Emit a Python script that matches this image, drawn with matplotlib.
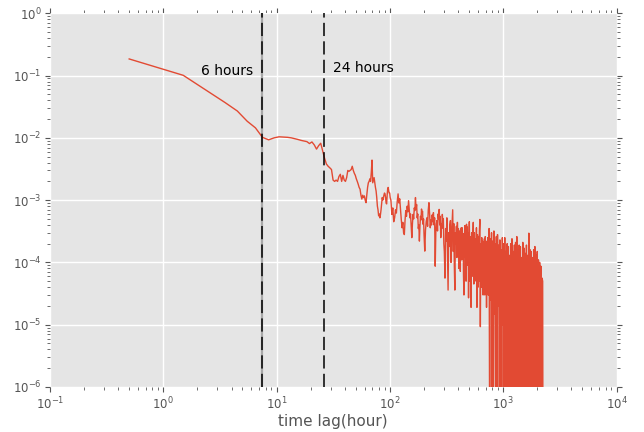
import matplotlib
matplotlib.use("Agg")
import matplotlib.pyplot as plt

# ---- data: autocorrelation vs time lag (hours) ----
lag_a = [0.5, 1.5, 2.5, 3.5, 4.5, 5.5, 6.5, 7.5, 8.5, 9.5,
         10.5, 11.5, 12.5, 13.5, 14.5, 15.5, 16.5, 17.5, 18.5, 19.5,
         20.5, 21.5, 22.5, 23.5, 24.5, 25.5, 26.5, 27.5, 28.5, 29.5,
         30.5, 31.5, 32.5, 33.5, 34.5, 35.5, 36.5, 37.5, 38.5, 39.5,
         40.5, 41.5, 42.5, 43.5, 44.5, 45.5, 46.5, 47.5, 48.5, 49.5,
         50.5, 51.5, 52.5, 53.5, 54.5, 55.5, 56.5, 57.5, 58.5, 59.5,
         60.5, 61.5, 62.5, 63.5, 64.5, 65.5, 66.5, 67.5, 68.5, 69.5,
         70.5, 71.5, 72.5, 73.5, 74.5, 75.5, 76.5, 77.5, 78.5, 79.5,
         80.5, 81.5, 82.5, 83.5, 84.5, 85.5, 86.5, 87.5, 88.5, 89.5,
         90.5, 91.5, 92.5, 93.5, 94.5, 95.5, 96.5, 97.5, 98.5, 99.5,
         100.5]
acf_a = [0.185, 0.101, 0.055, 0.037, 0.027, 0.0185, 0.0145, 0.0102, 0.0093, 0.0100,
         0.0104, 0.0103, 0.0102, 0.0100, 0.0097, 0.0094, 0.0091, 0.0089, 0.0087, 0.0081,
         0.0086, 0.0077, 0.0066, 0.0075, 0.0082, 0.0062, 0.0047, 0.0038, 0.0035, 0.0033,
         0.0031, 0.0021, 0.0020, 0.0021, 0.0020, 0.0024, 0.0026, 0.0020, 0.0025, 0.0021,
         0.0020, 0.0023, 0.0030, 0.0029, 0.0030, 0.0031, 0.0035, 0.0030, 0.0027, 0.0025,
         0.0022, 0.0020, 0.0018, 0.0016, 0.0015, 0.0012, 0.00104, 0.0012, 0.0011, 0.00117,
         0.0010, 0.00091, 0.0012, 0.0016, 0.0019, 0.0020, 0.0022, 0.0020, 0.0028, 0.0044,
         0.0019, 0.0021, 0.0023, 0.0019, 0.0016, 0.0014, 0.0011, 0.0008, 0.0007, 0.00056,
         0.0006, 0.00052, 0.00059, 0.0007, 0.0009, 0.0011, 0.0010, 0.0011, 0.0012, 0.0013,
         0.00126, 0.0011, 0.0009, 0.00087, 0.0012, 0.0015, 0.0016, 0.0014, 0.0013, 0.0013,
         0.0011]

lag_b1 = [102, 104, 106, 108, 110, 112, 114, 116, 118, 120,
          122, 124, 126, 128, 130, 132, 134, 136, 138, 140,
          142, 144, 146, 148, 150, 152, 154, 156, 158, 160,
          162, 164, 166, 168, 170, 172, 174, 176, 178, 180,
          182, 184, 186, 188, 190, 192, 194, 196, 198, 200,
          203, 206, 209, 212, 215, 218, 221, 224, 227, 230,
          233, 236, 239, 242, 245, 248, 251, 254, 257, 260,
          263, 266, 269, 272, 275, 278, 281, 284, 287, 290,
          293, 296, 299]
acf_b1 = [0.0010, 0.00059, 0.00075, 0.00045, 0.00052, 0.00070, 0.00062, 0.00095, 0.00126, 0.00090,
          0.00105, 0.00070, 0.00048, 0.00036, 0.00044, 0.00030, 0.00028, 0.00048, 0.00068, 0.00055,
          0.00080, 0.00065, 0.00098, 0.00070, 0.00052, 0.00060, 0.00038, 0.00025, 0.00042, 0.00059,
          0.00050, 0.00075, 0.00068, 0.0011, 0.00072, 0.00085, 0.00052, 0.00060, 0.00035, 0.00040,
          0.00022, 0.00038, 0.00055, 0.00048, 0.00072, 0.00060, 0.00066, 0.00041, 0.00050, 0.00028,
          0.000152, 0.00033, 0.00045, 0.00052, 0.00038, 0.00070, 0.00091, 0.00060, 0.00036, 0.00048,
          0.00040, 0.00058, 0.00045, 0.00063, 0.00040, 0.00052, 0.000087, 0.00030, 0.00042, 0.00047,
          0.00032, 0.00060, 0.00050, 0.00071, 0.00040, 0.00055, 0.00025, 0.00042, 0.00035, 0.00059,
          0.00045, 0.00050, 0.00020]

lag_b2 = [302, 306, 310, 314, 318, 322, 326, 330, 334, 338,
          342, 346, 350, 354, 358, 362, 366, 370, 374, 378,
          382, 386, 390, 394, 398, 402, 406, 410, 414, 418,
          422, 426, 430, 434, 438, 442, 446, 450, 454, 458,
          462, 466, 470, 474, 478, 482, 486, 490, 494, 498]
acf_b2 = [0.00015, 0.000056, 0.00035, 0.00022, 0.00052, 0.00012, 0.000036, 0.00030, 0.00018, 0.00040,
          0.00047, 0.00010, 0.00028, 0.00045, 0.00070, 0.00015, 0.00042, 0.00009, 0.000036, 0.00030,
          0.00020, 0.00038, 0.00012, 0.00044, 0.00018, 0.00035, 0.00008, 0.00032, 0.00015, 0.000072,
          0.00030, 0.00036, 0.00011, 0.00036, 0.00016, 0.00029, 0.00006, 0.00003, 0.00025, 0.00039,
          0.00012, 0.00033, 0.00005, 0.00041, 0.00014, 0.00037, 0.00009, 0.00030, 0.000027, 0.00022]

lag_c1 = [502, 508, 514, 520, 526, 532, 538, 544, 550, 556,
          562, 568, 574, 580, 586, 592, 598, 604, 610, 616,
          622, 628, 634, 640, 646, 652, 658, 664, 670, 676,
          682, 688, 694, 700, 706, 712, 718, 724, 730, 736,
          742, 748]
acf_c1 = [4.5e-4, 5e-5, 2.6e-4, 1.9e-5, 3.0e-4, 6e-5, 2.2e-4, 4.4e-4, 4.5e-5, 3.0e-4,
          5e-5, 2.4e-4, 7e-5, 3.6e-4, 1.9e-5, 2.8e-4, 4e-5, 2.6e-4, 5e-5, 3.2e-4,
          4.9e-4, 9.3e-6, 2.0e-4, 4e-5, 2.5e-4, 5e-5, 2.2e-4, 3e-5, 2.0e-4, 4.5e-5,
          2.4e-4, 3e-5, 2.6e-4, 5e-5, 1.9e-4, 1.9e-5, 2.2e-4, 4e-5, 2.5e-4, 3e-5,
          2.3e-4, 3e-5]

lag_c2 = [750, 759, 768, 778, 788, 797, 807, 817, 827, 837,
          848, 858, 869, 880, 890, 901, 912, 924, 935, 947,
          958, 970, 982, 994, 1006, 1019, 1031, 1044, 1057, 1070,
          1083, 1096, 1110, 1123, 1137, 1151, 1165, 1180, 1194, 1209,
          1224, 1239, 1254, 1270, 1285, 1301, 1317, 1333, 1350, 1366,
          1383, 1400, 1417, 1435, 1453, 1470, 1488, 1507, 1525, 1544,
          1563, 1582, 1602, 1621, 1641, 1662, 1682, 1703, 1724, 1745,
          1766, 1788, 1810, 1832, 1855, 1878, 1901, 1924, 1948, 1972,
          1996, 2021, 2045, 2071, 2096, 2122, 2148, 2175, 2201, 2228,
          2240]
acf_c2 = [3.5e-4, 1e-7, 2.4e-4, 2.5e-5, 3.0e-4, 1e-7, 2.2e-4, 1e-7, 3.2e-4, 1.5e-5,
          2.0e-4, 1e-7, 2.6e-4, 1e-7, 2.8e-4, 2.0e-5, 1.9e-4, 1e-7, 2.3e-4, 1e-7,
          1.6e-4, 1e-7, 2.5e-4, 1.0e-5, 2.0e-4, 1e-7, 2.5e-4, 1e-7, 1.5e-4, 1e-7,
          2.0e-4, 1e-7, 1.8e-4, 1e-7, 1.3e-4, 1e-7, 2.0e-4, 1e-7, 2.4e-4, 1e-7,
          1.5e-4, 1e-7, 1.9e-4, 1e-7, 2.1e-4, 1e-7, 2.6e-4, 1e-7, 1.6e-4, 1e-7,
          1.9e-4, 1e-7, 1.8e-4, 1e-7, 1.2e-4, 1e-7, 2.1e-4, 1e-7, 1.7e-4, 1e-7,
          1.4e-4, 1e-7, 1.9e-4, 1e-7, 1.3e-4, 1e-7, 2.95e-4, 1e-7, 1.6e-4, 1e-7,
          1.5e-4, 1e-7, 1.2e-4, 1e-7, 1.6e-4, 1e-7, 1.8e-4, 1e-7, 1.3e-4, 1e-7,
          1.5e-4, 1e-7, 1.1e-4, 1e-7, 1.0e-4, 1e-7, 8.7e-5, 1e-7, 5.6e-5, 5.0e-5,
          1e-7]

marker_lags = [7.5, 26.4]
marker_labels = ["6 hours", "24 hours"]
label_pos = [(2.15, 0.12), (31.5, 0.134)]

# ---- plot ----
plt.style.use("ggplot")
plt.rcParams["font.family"] = ["DejaVu Sans"]
plt.rcParams["lines.scale_dashes"] = False

fig = plt.figure(figsize=(6.44, 4.32), dpi=100)
ax = fig.add_axes([0.0776, 0.1042, 0.8798, 0.865])

lags = lag_a + lag_b1 + lag_b2 + lag_c1 + lag_c2
acf = acf_a + acf_b1 + acf_b2 + acf_c1 + acf_c2
ax.plot(lags, acf, color="#E24A33", lw=1.0, zorder=3)

ax.set_xscale("log")
ax.set_yscale("log")
ax.set_xlim(0.1, 1e4)
ax.set_ylim(1e-6, 1)

ax.axvline(marker_lags[0], color="#a8a8a8", lw=1.6, zorder=2)
for xv in marker_lags:
    ax.axvline(xv, color="black", lw=1.1, dashes=(9.5, 3.8), zorder=4)
for (tx, ty), s in zip(label_pos, marker_labels):
    ax.text(tx, ty, s, fontsize=10, va="center", ha="left", color="black")

ax.set_xlabel("time lag(hour)", fontsize=11, color="#555555", labelpad=1.5)
ax.grid(True, which="major", color="white", lw=1.0)
ax.grid(False, which="minor")
ax.tick_params(which="both", direction="out", colors="#555555",
               top=True, right=True, labelsize=8.5, pad=2.5)
for sp in ax.spines.values():
    sp.set_visible(False)

fig.savefig("out.png", dpi=100)
